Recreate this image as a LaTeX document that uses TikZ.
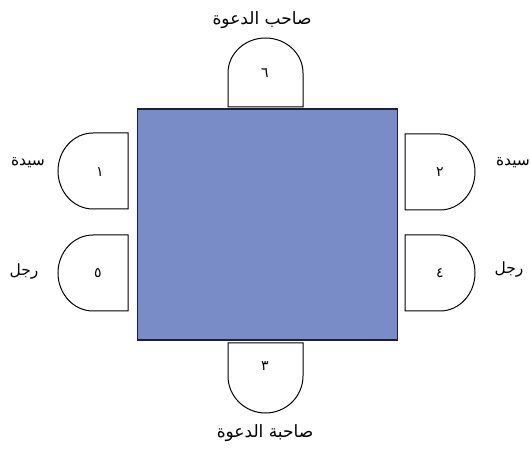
\documentclass[tikz,border=0pt]{standalone}
\usepackage{fontspec}
\newfontfamily\arabicfont[Script=Arabic]{DejaVu Sans}
\TeXXeTstate=1
\definecolor{tablefill}{RGB}{122,140,200}
\definecolor{tableedge}{RGB}{30,32,45}
\tikzset{
  chair/.style={draw=black, line width=1pt, fill=white},
  tablebox/.style={draw=tableedge, line width=1.5pt, fill=tablefill},
  lbl/.style={font=\arabicfont\fontsize{15.5}{18}\selectfont, inner sep=0pt},
  wide lbl/.style={font=\arabicfont\fontsize{17}{20}\selectfont, inner sep=0pt},
  num/.style={font=\arabicfont\fontsize{14}{16}\selectfont, inner sep=0pt}
}
\begin{document}
\begin{tikzpicture}[x=1pt,y=1pt]
\useasboundingbox (0,0) rectangle (531,448);
% table
\draw[tablebox] (137.5,108) rectangle (397.5,339);
% chair 6 (top)
\draw[chair] (228,341) -- (228,375) arc[start angle=180,end angle=0,x radius=37.5,y radius=35] -- (303,341) -- cycle;
% chair 3 (bottom)
\draw[chair] (228,105) -- (228,72) arc[start angle=180,end angle=360,x radius=37.5,y radius=37] -- (303,105) -- cycle;
% chair 1 (left top)
\draw[chair] (128,315) -- (93,315) arc[start angle=90,end angle=270,x radius=35,y radius=38] -- (128,239) -- cycle;
% chair 5 (left bottom)
\draw[chair] (128,213) -- (93,213) arc[start angle=90,end angle=270,x radius=35,y radius=38] -- (128,137) -- cycle;
% chair 2 (right top)
\draw[chair] (405,314) -- (440,314) arc[start angle=90,end angle=-90,x radius=35,y radius=38] -- (405,238) -- cycle;
% chair 4 (right bottom)
\draw[chair] (405,213) -- (440,213) arc[start angle=90,end angle=-90,x radius=35,y radius=38] -- (405,137) -- cycle;
% numbers
\node[num] (n1) at (100,276) {\beginR ١\endR};
\node[num] (n5) at (98,175) {\beginR ٥\endR};
\node[num] (n2) at (440,276) {\beginR ٢\endR};
\node[num] (n4) at (440,175) {\beginR ٤\endR};
\node[num] (n6) at (265,375) {\beginR ٦\endR};
\node[num] (n3) at (265,82) {\beginR ٣\endR};
% labels
\node[wide lbl] (host) at (262,428) {\beginR صاحب الدعوة\endR};
\node[wide lbl] (hostess) at (265,15) {\beginR صاحبة الدعوة\endR};
\node[lbl] (ladyL) at (28,285) {\beginR سيدة\endR};
\node[lbl] (manL) at (24,176) {\beginR رجل\endR};
\node[lbl] (ladyR) at (513,285) {\beginR سيدة\endR};
\node[lbl] (manR) at (509,178) {\beginR رجل\endR};
\end{tikzpicture}
\end{document}
